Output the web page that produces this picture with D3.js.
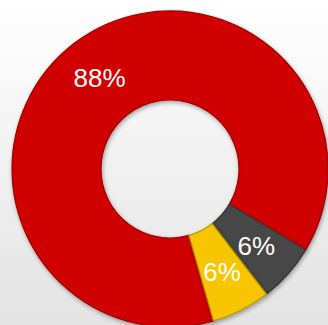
<!DOCTYPE html>
<html>
<head>
<meta charset="utf-8">
<script src="https://cdn.jsdelivr.net/npm/d3@7"></script>
<style>
  html, body { margin: 0; padding: 0; }
  svg { display: block; }
</style>
</head>
<body>
<div id="chart"></div>
<script>
// shares, in drawing order (clockwise from the start angle)
const categories = ['A', 'B', 'C'];
const shares = [88, 6, 6];
const labels = ['88%', '6%', '6%'];
const colors = ['#d00000', '#474747', '#f7c600'];

const width = 328, height = 325;
const cx = 170, cy = 169;
const outerR = 158, innerR = 69;

const svg = d3.select('#chart').append('svg')
  .attr('width', width)
  .attr('height', height);

const defs = svg.append('defs');
const bg = defs.append('linearGradient')
  .attr('id', 'bg').attr('x1', 0).attr('y1', 0).attr('x2', 0).attr('y2', 1);
bg.append('stop').attr('offset', '0%').attr('stop-color', '#ffffff');
bg.append('stop').attr('offset', '100%').attr('stop-color', '#e3e3e3');

const shadow = defs.append('filter').attr('id', 'shadow')
  .attr('x', '-20%').attr('y', '-20%').attr('width', '140%').attr('height', '140%');
shadow.append('feDropShadow')
  .attr('dx', 1).attr('dy', 2).attr('stdDeviation', 2)
  .attr('flood-color', '#000').attr('flood-opacity', 0.35);

svg.append('rect')
  .attr('width', width).attr('height', height)
  .attr('fill', 'url(#bg)');

const pie = d3.pie()
  .sort(null)
  .startAngle(164 * Math.PI / 180)
  .endAngle(164 * Math.PI / 180 + 2 * Math.PI);

const arc = d3.arc().innerRadius(innerR).outerRadius(outerR);
const labelArc = d3.arc().innerRadius(innerR).outerRadius(outerR + 4);

const data = pie(shares);

const g = svg.append('g').attr('transform', `translate(${cx},${cy})`);

g.selectAll('path.slice')
  .data(data)
  .enter().append('path')
  .attr('class', 'slice')
  .attr('d', arc)
  .attr('fill', (d, i) => colors[i])
  .attr('stroke', (d, i) => d3.color(colors[i]).darker(0.8))
  .attr('stroke-width', 1.2)
  .attr('filter', 'url(#shadow)');

g.selectAll('text.label')
  .data(data)
  .enter().append('text')
  .attr('class', 'label')
  .attr('transform', d => `translate(${labelArc.centroid(d)})`)
  .attr('text-anchor', 'middle')
  .attr('dy', '0.36em')
  .attr('font-family', 'Liberation Sans, Arial, sans-serif')
  .attr('font-size', 26)
  .attr('fill', '#ffffff')
  .text((d, i) => labels[i]);
</script>
</body>
</html>
